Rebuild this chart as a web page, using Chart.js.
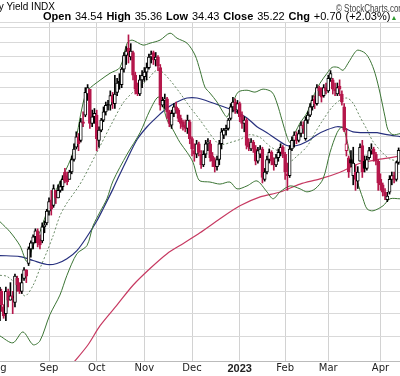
<!DOCTYPE html>
<html>
<head>
<meta charset="utf-8">
<title>10-Year US Treasury Yield INDX</title>
<script src="https://cdn.jsdelivr.net/npm/chart.js@4.4.0/dist/chart.umd.min.js"></script>
<style>
  html, body { margin: 0; padding: 0; background: #fff; overflow: hidden; }
  #wrap { position: relative; width: 400px; height: 376px; overflow: hidden; }
  #priceChart { position: absolute; left: 0; top: 0; }
  .hdr { position: absolute; white-space: nowrap; font-family: "Liberation Sans", Arial, sans-serif; color: #000; }
  #title { right: 345px; top: 1px; font-size: 10px; line-height: 12px; }
  #copy { left: 336px; top: 3px; font-size: 10px; line-height: 12px; color: #444; transform: scaleX(0.8); transform-origin: left top; }
  #quote { left: 43px; top: 10px; font-size: 11px; line-height: 13px; word-spacing: 0.8px; }
  #quote .up { color: #2f9a2f; font-size: 7px; }
</style>
</head>
<body>
<div id="wrap">
  <canvas id="priceChart" width="400" height="376"></canvas>
  <div class="hdr" id="title">10-Year US Treasury Yield INDX</div>
  <div class="hdr" id="copy">© StockCharts.com</div>
  <div class="hdr" id="quote"></div>
</div>
<script>
// daily bars, index 0 = 1 Aug 2022, last = 14 Apr 2023
const open = [
  26.4, 26.7, 28.0, 27.3, 27.0, 28.0, 27.6, 27.8, 27.5, 28.6, 28.3, 28.0, 28.6, 29.0, 29.3, 30.0, 30.3, 30.6, 30.9, 30.5, 30.4, 31.1, 31.3,
  31.9, 32.5, 32.2, 33.0, 32.6, 33.0, 33.2, 34.0, 33.8, 33.6, 34.0, 34.7, 35.4, 36.0, 35.8, 36.9, 37.3, 38.6, 38.9, 36.8, 37.2,
  37.3, 35.8, 36.4, 37.0, 37.5, 37.9, 37.9, 38.5, 38.0, 38.7, 39.4, 39.2, 40.2, 41.1, 41.6, 41.0, 41.3, 39.8, 39.0, 38.6, 39.5,
  39.7, 40.0, 40.3, 41.0, 41.3, 40.8, 41.0, 40.3, 37.9, 38.2, 38.3, 37.5, 36.7, 37.4, 37.8, 37.6, 37.1, 36.9, 36.7, 36.5, 36.9,
  35.9, 35.2, 35.0, 35.6, 35.0, 34.4, 35.0, 35.6, 35.6, 34.9, 34.6, 34.3, 34.7, 35.6, 36.1, 36.4, 36.5, 37.1, 37.8, 38.1, 37.6,
  38.0, 37.3, 36.8, 37.0, 35.6, 35.3, 35.7, 35.3, 34.6, 35.0, 35.3, 33.6, 34.0, 34.7, 35.1, 34.6, 34.4, 34.8, 35.1, 35.4,
  35.0, 33.9, 33.8, 35.3, 35.8, 36.1, 35.8, 36.2, 36.7, 35.9, 37.0, 37.3, 37.8, 38.3, 38.0, 39.0, 38.8, 38.5, 39.0,
  38.8, 39.6, 39.5, 38.9, 38.6, 39.1, 38.6, 37.8, 35.2, 34.8, 34.7, 33.8, 34.0, 33.5, 34.6, 35.5, 34.6, 34.2, 34.8, 35.2, 35.3, 35.0, 34.6,
  33.6, 33.3, 32.9, 32.5, 32.9, 33.6, 33.8, 33.6, 34.54
];
const high = [
  26.6, 28.5, 28.1, 27.4, 28.2, 28.1, 28.4, 28.0, 28.8, 28.7, 28.4, 28.8, 29.1, 29.0, 30.1, 30.4, 30.7, 31.0, 31.0, 30.7, 31.3, 31.4, 32.0,
  32.6, 33.0, 33.3, 33.0, 33.3, 33.5, 33.8, 34.2, 34.0, 34.1, 34.9, 35.6, 36.3, 36.2, 37.1, 37.5, 39.0, 39.2, 38.9, 37.6, 37.7,
  37.6, 36.6, 37.1, 37.8, 38.1, 38.2, 38.8, 38.7, 39.8, 39.6, 39.9, 40.3, 41.3, 41.7, 42.5, 41.9, 41.4, 40.0, 39.3, 39.8, 40.1,
  40.3, 40.6, 41.2, 41.4, 41.4, 41.3, 41.1, 40.5, 38.4, 38.6, 38.4, 37.6, 37.6, 38.0, 38.1, 37.7, 37.3, 37.0, 37.0, 37.3, 37.0,
  36.0, 35.6, 35.8, 35.7, 35.2, 35.2, 35.8, 35.9, 35.8, 35.1, 34.8, 34.9, 35.8, 36.5, 36.5, 36.7, 37.1, 38.0, 38.4, 38.3, 38.2,
  38.1, 37.5, 37.2, 37.1, 35.9, 35.9, 35.8, 35.5, 35.4, 35.5, 35.4, 34.2, 34.9, 35.3, 35.2, 34.8, 35.0, 35.3, 35.6, 35.5,
  35.1, 34.5, 35.5, 36.0, 36.3, 36.3, 36.4, 36.9, 36.9, 37.2, 37.5, 38.0, 38.5, 38.5, 39.2, 39.1, 39.0, 39.2, 39.3,
  39.8, 40.1, 39.6, 39.3, 39.3, 39.5, 38.8, 38.0, 36.5, 34.9, 35.2, 35.4, 34.4, 34.3, 35.6, 35.8, 34.9, 34.9, 35.4, 35.6, 35.4, 35.1, 34.7,
  33.9, 33.4, 33.1, 32.9, 33.8, 34.0, 34.0, 34.6, 35.36
];
const low = [
  25.8, 26.6, 27.1, 26.8, 26.7, 27.3, 27.6, 27.0, 27.3, 28.0, 27.9, 27.9, 28.5, 28.4, 29.2, 29.6, 30.0, 30.3, 30.1, 30.0, 30.3, 30.8, 31.2,
  31.7, 31.7, 32.1, 32.3, 32.6, 32.9, 33.0, 33.4, 33.3, 33.6, 33.9, 34.6, 35.3, 35.2, 35.7, 36.6, 37.2, 38.2, 36.5, 36.6, 36.8,
  35.2, 35.4, 36.3, 36.9, 37.3, 37.6, 37.6, 37.7, 37.7, 38.5, 38.9, 39.0, 40.0, 40.5, 40.6, 40.8, 39.5, 38.6, 38.5, 38.5, 39.0,
  39.4, 39.5, 40.2, 40.6, 40.5, 40.4, 40.1, 37.6, 37.8, 37.7, 37.1, 36.6, 36.5, 37.2, 37.4, 36.9, 36.5, 36.4, 36.3, 36.2, 35.6,
  34.9, 34.6, 34.8, 34.9, 34.2, 34.3, 34.8, 35.2, 34.6, 34.3, 34.0, 34.1, 34.4, 35.3, 35.9, 36.1, 36.4, 37.0, 37.5, 37.4, 37.4,
  36.9, 36.5, 36.3, 35.3, 35.2, 35.2, 35.1, 34.4, 34.5, 34.8, 33.4, 33.5, 33.9, 34.5, 34.4, 34.1, 34.3, 34.6, 34.9, 34.8,
  33.6, 33.0, 33.7, 35.2, 35.4, 35.6, 35.7, 36.0, 36.2, 35.8, 36.8, 37.2, 37.6, 37.7, 37.9, 38.5, 38.1, 38.4, 38.6,
  38.7, 39.4, 38.6, 38.5, 38.5, 38.5, 37.9, 36.3, 34.9, 33.7, 34.3, 33.3, 33.0, 33.1, 34.6, 33.7, 34.0, 34.1, 34.7, 35.0, 34.6, 34.4, 33.0,
  33.0, 32.7, 32.5, 32.4, 32.8, 33.3, 33.4, 33.5, 34.43
];
const close = [
  26.0, 28.2, 27.4, 26.9, 28.0, 27.6, 27.8, 27.7, 28.7, 28.3, 28.0, 28.4, 29.0, 28.7, 30.0, 30.3, 30.6, 30.9, 30.3, 30.2, 31.1, 31.2, 31.9,
  32.4, 32.0, 33.1, 32.6, 33.0, 33.2, 33.6, 33.5, 33.45, 34.0, 34.7, 35.3, 36.0, 35.6, 36.9, 36.8, 38.7, 39.0, 36.8, 37.2, 37.4,
  35.9, 36.4, 37.0, 37.5, 37.9, 37.9, 38.5, 38.1, 38.6, 39.3, 39.3, 40.2, 41.1, 41.4, 41.3, 41.4, 39.8, 38.9, 38.6, 39.5, 39.8,
  40.0, 40.3, 41.0, 41.2, 40.8, 41.0, 40.4, 37.9, 38.2, 38.3, 37.5, 36.8, 37.4, 37.8, 37.6, 37.1, 36.8, 36.6, 36.5, 37.0, 35.9,
  35.3, 35.0, 35.6, 35.1, 34.4, 35.0, 35.6, 35.7, 34.8, 34.6, 34.3, 34.7, 35.6, 36.3, 36.4, 36.5, 37.0, 37.8, 38.1, 37.6, 38.0,
  37.2, 36.8, 37.0, 35.5, 35.4, 35.7, 35.3, 34.6, 35.2, 35.3, 33.7, 34.0, 34.7, 35.1, 34.6, 34.4, 34.8, 35.1, 35.4, 35.0,
  34.0, 33.8, 35.3, 35.8, 36.1, 35.8, 36.2, 36.7, 36.5, 37.0, 37.3, 37.8, 38.2, 38.0, 39.0, 38.8, 38.4, 39.0, 38.8,
  39.6, 39.9, 38.9, 38.8, 39.0, 38.9, 38.1, 36.4, 35.6, 34.0, 34.5, 34.5, 33.6, 34.0, 35.4, 34.0, 34.2, 34.7, 35.2, 35.3, 35.0, 34.6, 33.4,
  33.3, 32.9, 32.7, 32.7, 33.6, 33.8, 33.6, 34.52, 35.22
];

// month ticks: bar index of first session and label
const monthTickIdx = [0, 23, 44, 65, 86, 107, 127, 146, 169];
const monthLabels = ['Aug', 'Sep', 'Oct', 'Nov', 'Dec', '2023', 'Feb', 'Mar', 'Apr'];
const yGrid = [26, 27, 28, 29, 30, 31, 32, 33, 34, 35, 36, 37, 38, 39, 40, 41, 42, 43];

// overlays as [bar index, yield]
const bbUpper = [[1.4,31.36],[5.8,30.85],[10.2,30.16],[13.3,29.39],[16.0,30.16],[19.0,30.85],[22.1,31.87],[24.8,32.65],[27.8,33.45],[29.2,33.78],[33.6,35.11],[38.0,38.04],[40.2,38.84],[45.5,39.48],[49.9,39.93],[54.3,40.31],[57.4,41.93],[59.6,42.14],[64.4,41.80],[67.5,41.93],[71.9,42.14],[76.3,42.62],[79.4,42.27],[83.8,41.93],[87.3,41.13],[89.5,40.12],[91.7,39.03],[93.9,38.66],[97.0,38.10],[99.6,37.49],[101.4,37.19],[104.0,38.04],[106.3,38.72],[110.2,38.84],[113.7,38.72],[117.3,38.91],[121.2,38.72],[123.4,38.04],[125.6,37.01],[127.8,36.02],[129.2,35.67],[131.4,36.25],[133.6,36.83],[136.6,37.43],[139.3,38.41],[142.4,39.29],[145.5,39.93],[147.7,40.31],[150.3,40.31],[152.5,40.12],[154.7,40.58],[157.8,41.32],[159.1,41.46],[162.2,41.26],[164.4,40.78],[166.6,39.93],[168.8,38.66],[171.0,37.19],[172.3,36.42],[174.5,36.13],[177.6,36.19]];
const bbMid = [[1.4,28.74],[4.5,28.69],[8.9,28.28],[12.4,27.79],[16.0,28.28],[19.0,29.06],[22.1,29.87],[24.8,30.65],[27.8,31.66],[30.9,32.33],[35.3,33.08],[38.0,33.62],[44.1,35.11],[49.9,36.60],[55.6,38.04],[60.0,38.72],[66.2,39.48],[69.7,40.06],[71.9,40.12],[76.3,39.48],[80.7,38.66],[85.1,37.79],[89.5,37.01],[92.6,36.42],[97.0,35.67],[99.6,35.56],[102.7,35.67],[107.1,35.85],[111.5,36.13],[116.0,35.96],[120.4,35.44],[124.8,35.11],[129.2,34.61],[132.2,34.89],[136.6,35.44],[140.2,36.25],[143.7,37.01],[147.7,37.79],[151.2,38.22],[154.3,38.35],[156.9,38.04],[160.0,37.19],[163.1,36.42],[165.7,35.73],[169.7,35.11],[173.2,34.72],[177.6,34.61]];
const bbLower = [[1.4,26.04],[7.1,25.75],[11.5,26.21],[16.0,25.67],[19.0,25.83],[23.4,26.96],[27.8,27.83],[30.9,28.74],[35.3,29.77],[39.7,30.16],[42.4,31.15],[45.5,31.87],[48.5,32.55],[51.2,33.51],[57.4,35.0],[63.1,36.25],[67.5,37.61],[71.0,38.41],[72.8,38.04],[75.0,37.01],[77.6,36.42],[80.7,35.67],[83.8,35.11],[86.4,34.55],[88.2,33.78],[89.5,33.51],[93.9,33.45],[98.3,33.34],[102.7,33.45],[105.8,33.08],[110.2,33.24],[114.6,33.51],[119.0,32.92],[121.7,32.55],[124.8,32.92],[129.2,33.24],[133.6,33.08],[136.6,32.92],[140.2,33.08],[143.7,33.62],[146.8,35.11],[149.9,36.25],[152.1,36.60],[153.4,36.25],[155.6,35.0],[158.7,33.51],[161.3,32.55],[163.1,32.02],[165.7,31.92],[170.1,32.18],[173.2,32.55],[177.6,32.55]];
const sma50 = [[1.4,29.68],[10.2,29.63],[16.0,29.44],[22.1,29.25],[26.5,29.30],[30.9,29.53],[35.3,29.92],[39.7,30.60],[44.1,31.41],[46.8,32.02],[51.2,33.08],[53.4,33.67],[57.4,34.72],[61.8,35.85],[66.2,36.60],[70.6,37.19],[75.0,37.73],[79.4,38.10],[83.8,38.35],[88.2,38.35],[95.2,38.04],[101.4,37.73],[105.8,37.49],[110.2,37.13],[114.6,36.60],[119.0,36.25],[123.4,35.85],[127.8,35.50],[132.2,35.50],[136.6,35.73],[141.0,36.13],[145.5,36.42],[149.9,36.60],[152.5,36.54],[156.9,36.30],[163.1,36.25],[167.5,36.25],[171.9,36.13],[177.6,36.02]];
const sma200 = [[27.8,24.28],[34.4,25.0],[40.2,25.67],[45.5,26.48],[53.0,27.39],[60.0,28.28],[67.5,29.06],[75.0,29.77],[82.0,30.26],[89.5,30.80],[98.3,31.51],[107.1,32.18],[116.0,32.65],[124.8,32.91],[133.6,33.34],[142.4,33.62],[151.2,33.99],[160.0,34.49],[168.8,34.72],[177.6,34.89]];

// header quote from the last bar
const last = close.length - 1;
const chg = close[last] - close[last - 1];
const pct = chg / close[last - 1] * 100;
document.getElementById('quote').innerHTML =
  '<b>Open</b> ' + open[last].toFixed(2) + ' <b>High</b> ' + high[last].toFixed(2) +
  ' <b>Low</b> ' + low[last].toFixed(2) + ' <b>Close</b> ' + close[last].toFixed(2) +
  ' <b>Chg</b> +' + chg.toFixed(2) + ' (+' + pct.toFixed(2) + '%)<span class="up">&#9650;</span>';

// candle colours: black when close >= previous close, red otherwise; hollow when close > open
const idx = close.map((c, i) => i);
const barColor = close.map((c, i) => (i === 0 || c >= close[i - 1]) ? '#000000' : '#b5174b');
const bodyFill = close.map((c, i) => c > open[i] ? '#ffffff' : barColor[i]);

const lineDs = (label, data, color, width, dash, order) => ({
  type: 'line', label: label, data: data, borderColor: color, borderWidth: width,
  borderDash: dash, pointRadius: 0, tension: 0.3, fill: false, order: order
});

const ctx = document.getElementById('priceChart').getContext('2d');
const priceChart = new Chart(ctx, {
  type: 'bar',
  data: {
    datasets: [
      {
        type: 'bar', label: 'Body',
        data: idx.map(i => ({ x: i, y: [Math.min(open[i], close[i]), Math.max(open[i], close[i])] })),
        backgroundColor: bodyFill, borderColor: barColor, borderWidth: 1, borderSkipped: false,
        barThickness: 3, minBarLength: 1, grouped: false, order: 0
      },
      {
        type: 'bar', label: 'Range',
        data: idx.map(i => ({ x: i, y: [low[i], high[i]] })),
        backgroundColor: barColor, borderWidth: 0, barThickness: 1, grouped: false, order: 1
      },
      lineDs('BB upper', bbUpper, '#3b7434', 1, [], 2),
      lineDs('BB lower', bbLower, '#3b7434', 1, [], 3),
      lineDs('BB mid', bbMid, '#6a8a66', 1, [2, 2], 4),
      lineDs('MA 50', sma50, '#27307e', 1.2, [], 5),
      lineDs('MA 200', sma200, '#c73a62', 1.2, [], 6)
    ]
  },
  options: {
    responsive: false,
    animation: false,
    layout: { padding: { top: 22, left: 0, right: 0, bottom: 0 } },
    plugins: { legend: { display: false }, tooltip: { enabled: false } },
    scales: {
      x: {
        type: 'linear', min: 1.41, max: 177.6, offset: false,
        afterBuildTicks: s => { s.ticks = monthTickIdx.map(v => ({ value: v })); },
        afterFit: s => { s.height = 15; s.paddingLeft = 0; s.paddingRight = 0; },
        grid: { color: '#d2d2d2', drawTicks: false, offset: false },
        border: { display: true, color: '#bbbbbb' },
        ticks: {
          autoSkip: false, maxRotation: 0, padding: 1, color: '#222',
          callback: (v, i) => monthLabels[i],
          font: c => (c.tick && c.tick.label === '2023')
            ? { family: 'Liberation Sans', size: 11, weight: 'bold' }
            : { family: 'DejaVu Sans', size: 10 }
        }
      },
      y: {
        type: 'logarithmic', min: 25, max: 43.4,
        afterBuildTicks: s => { s.ticks = yGrid.concat([s.max]).map(v => ({ value: v })); },
        afterFit: s => { s.width = 0; },
        grid: { color: '#d9d9d9', drawTicks: false },
        border: { display: false },
        ticks: { display: false }
      }
    }
  }
});
</script>
</body>
</html>
